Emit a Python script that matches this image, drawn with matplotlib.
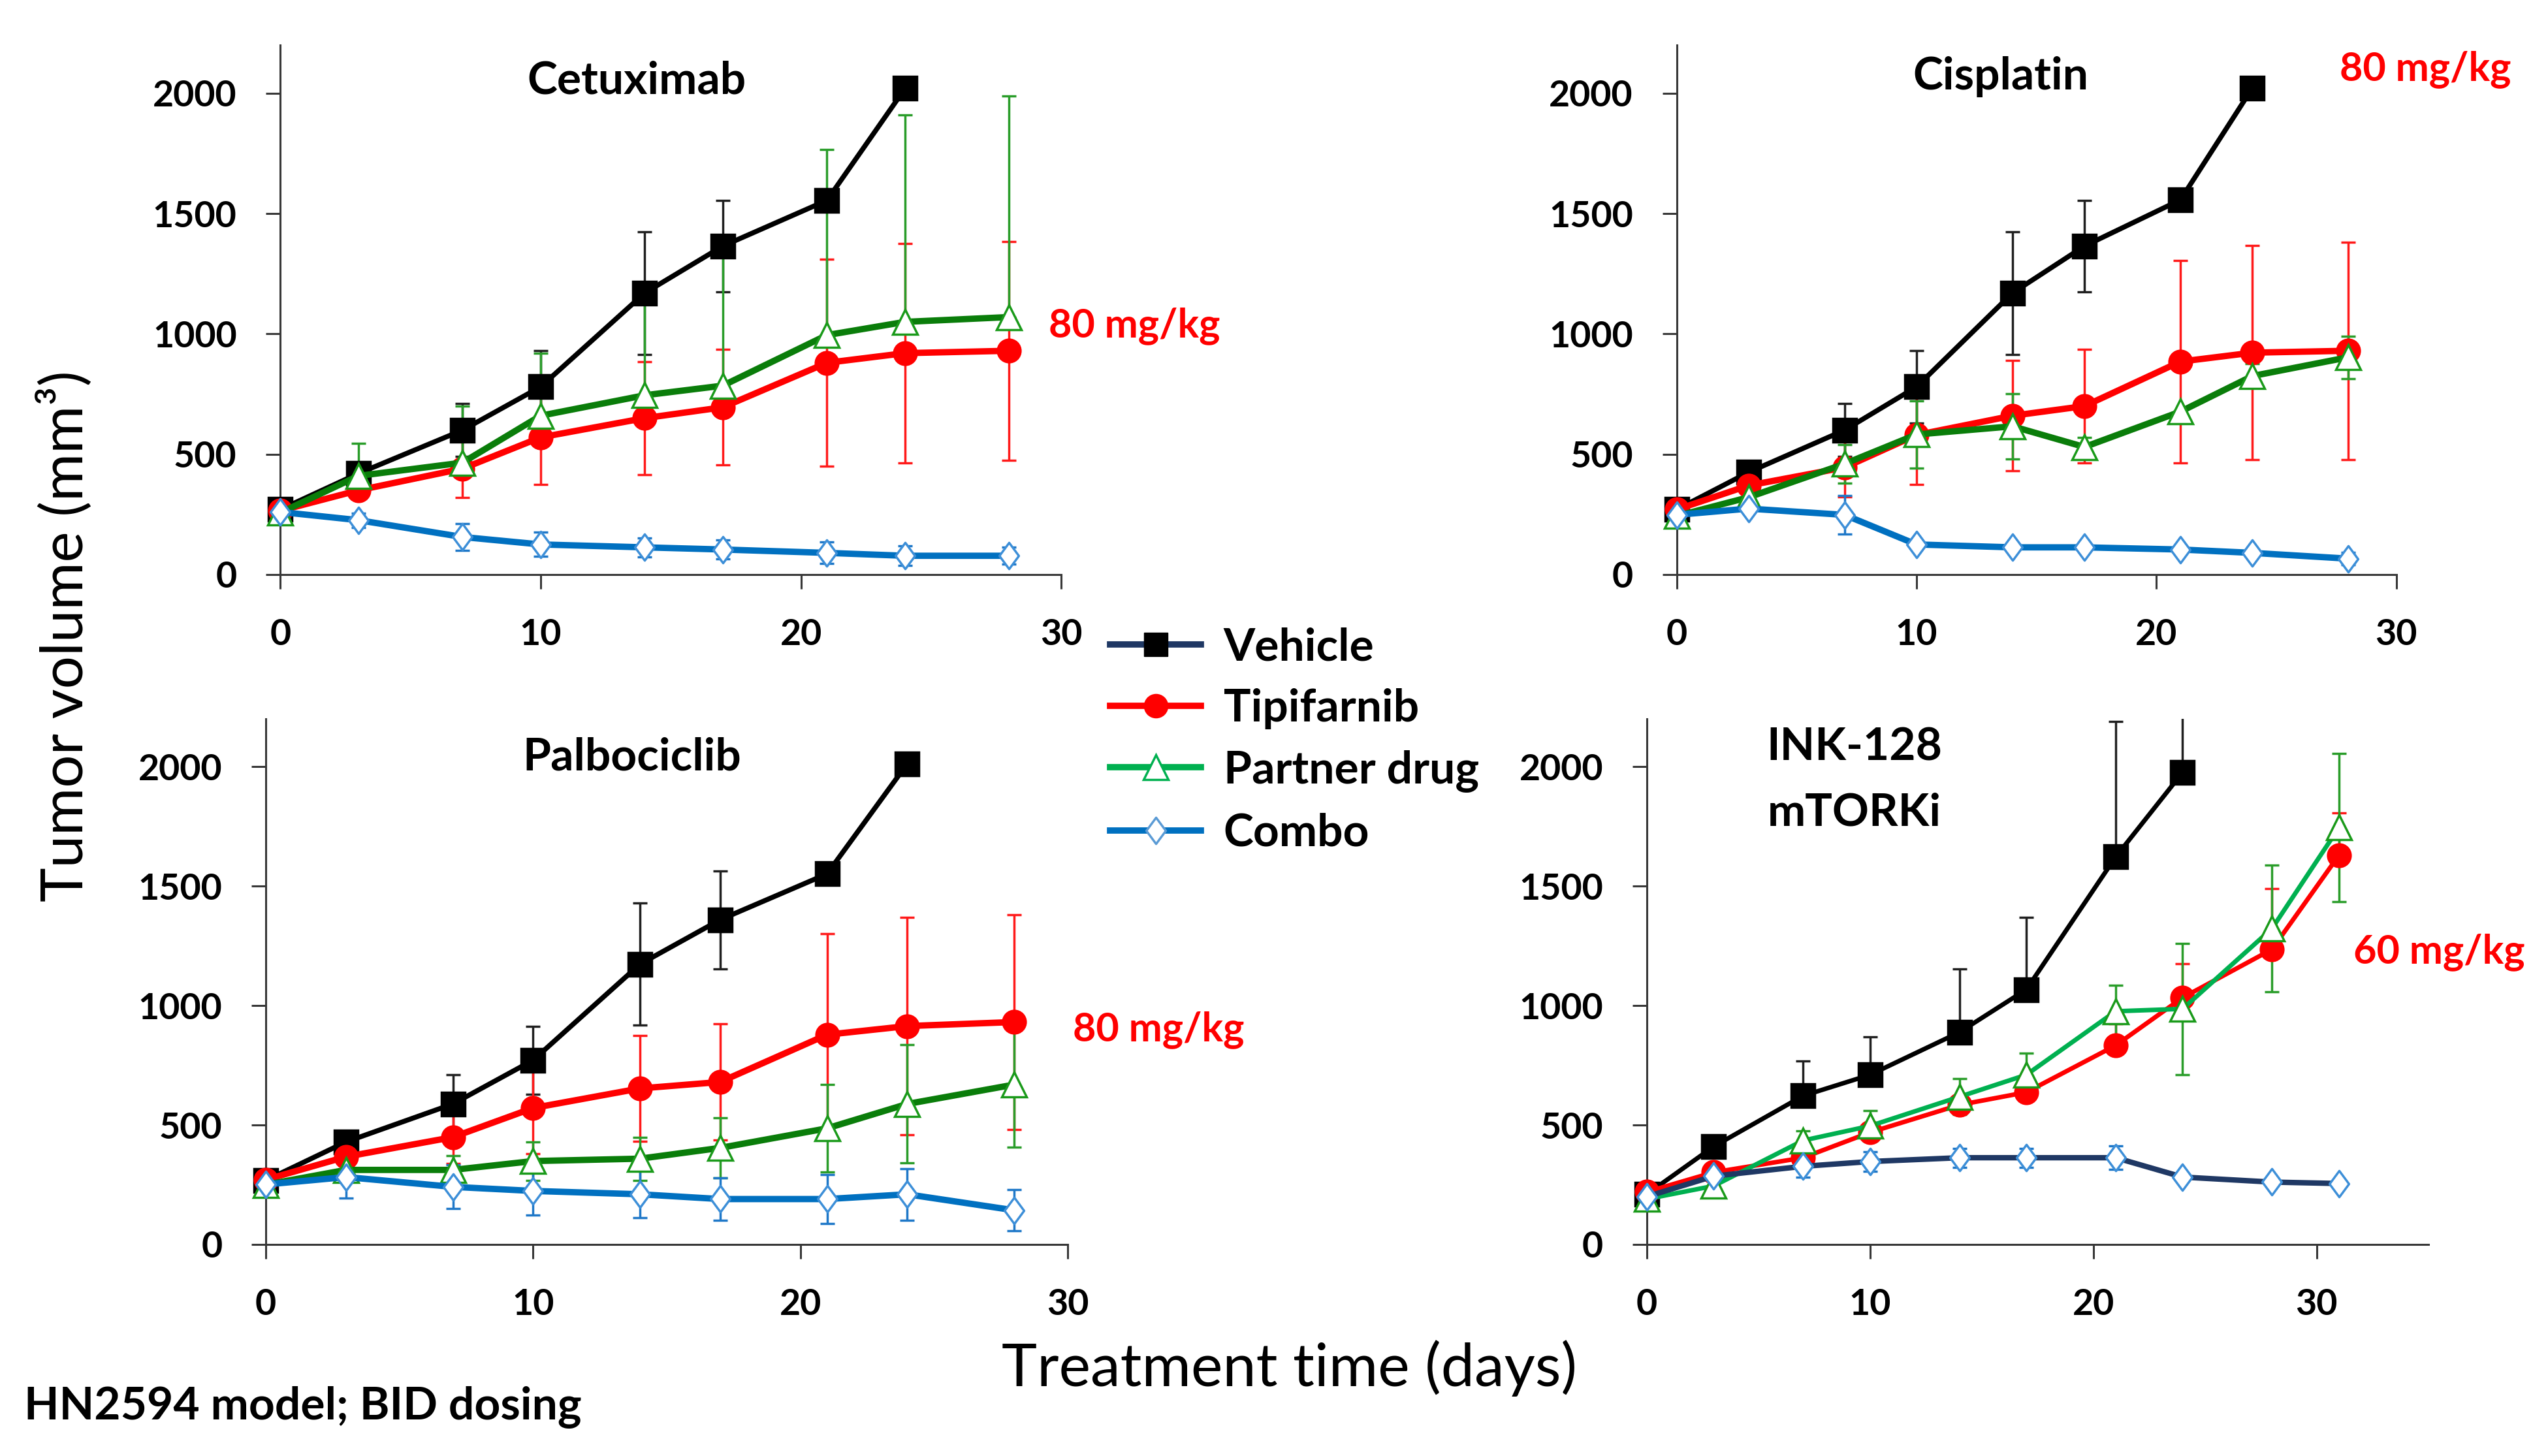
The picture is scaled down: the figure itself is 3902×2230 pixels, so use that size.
import matplotlib
matplotlib.use('Agg')
import matplotlib.pyplot as plt
from matplotlib.lines import Line2D
from matplotlib.path import Path

# ---- data ----
days = [0, 3, 7, 10, 14, 17, 21, 24, 28]
days_ink = [0, 3, 7, 10, 14, 17, 21, 24, 28, 31]

cetux_vehicle = [270, 420, 600, 780, 1170, 1365, 1555, 2020]
cetux_vehicle_err = [0, 0, 110, 150, 255, 190, 0, 0]
cetux_tipi = [265, 350, 440, 570, 650, 695, 880, 920, 930]
cetux_tipi_err = [0, 30, 120, 195, 235, 240, 430, 455, 455]
cetux_partner = [257, 410, 465, 660, 745, 785, 995, 1050, 1070]
cetux_partner_err = [0, 135, 235, 260, 420, 540, 770, 860, 920]   # upper only
cetux_combo = [260, 226, 156, 125, 113, 104, 90, 78, 78]
cetux_combo_err = [0, 30, 55, 50, 40, 40, 45, 40, 35]

cispl_vehicle = [270, 425, 600, 780, 1170, 1365, 1557, 2022]
cispl_vehicle_err = [0, 0, 110, 150, 255, 190, 0, 0]
cispl_tipi = [270, 370, 445, 580, 660, 700, 885, 922, 930]
cispl_tipi_err = [0, 30, 122, 205, 230, 235, 420, 445, 452]
cispl_partner = [243, 321, 460, 582, 616, 530, 677, 825, 903]
cispl_partner_err = [0, 30, 80, 140, 135, 40, 0, 50, 88]
cispl_combo = [248, 274, 248, 125, 113, 113, 104, 90, 66]
cispl_combo_err = [0, 10, 80, 10, 10, 10, 10, 10, 25]

palbo_vehicle = [268, 429, 588, 771, 1173, 1359, 1551, 2012]
palbo_vehicle_err = [0, 0, 122, 143, 255, 205, 0, 0]
palbo_tipi = [271, 367, 449, 571, 653, 680, 878, 914, 931]
palbo_tipi_err = [0, 30, 110, 190, 222, 244, 424, 455, 450]
palbo_partner = [250, 312, 312, 349, 359, 404, 486, 588, 669]
palbo_partner_err = [0, 40, 60, 80, 90, 125, 184, 247, 261]
palbo_combo = [251, 282, 241, 224, 210, 190, 190, 210, 143]
palbo_combo_err = [0, 88, 92, 100, 98, 88, 102, 108, 86]

ink_vehicle = [210, 410, 622, 710, 888, 1067, 1622, 1976]
ink_vehicle_err = [0, 0, 145, 159, 265, 302, 568, 450]   # upper only
ink_tipi = [220, 302, 363, 469, 584, 637, 833, 1033, 1235, 1629]
ink_tipi_err = [0, 20, 30, 30, 30, 30, 90, 142, 255, 177]   # upper only
ink_partner = [190, 245, 435, 496, 618, 710, 976, 986, 1322, 1745]
ink_partner_err = [0, 20, 40, 65, 75, 90, 110, 275, 265, 310]
ink_combo = [200, 286, 327, 347, 363, 363, 363, 282, 261, 255]
ink_combo_err = [0, 15, 45, 40, 40, 40, 50, 10, 10, 10]

legend_labels = ['Vehicle', 'Tipifarnib', 'Partner drug', 'Combo']

plt.rcParams['font.family'] = ['Lato', 'DejaVu Sans']
plt.rcParams['font.weight'] = 'bold'

# tall diamond like the excel marker
diamond = Path([(0, 1), (0.74, 0), (0, -1), (-0.74, 0), (0, 1)],
               [Path.MOVETO, Path.LINETO, Path.LINETO, Path.LINETO, Path.CLOSEPOLY])

veh_st = dict(color='black', marker='s', ms=26, mfc='black', mec='black', ecolor='#202020', lw=5.5, z=3)
tip_st = dict(color='#ff0000', marker='o', ms=25, mfc='#ff0000', mec='#ff0000', ecolor='#ff1a1a', lw=7, z=4)
par_st = dict(color='#0a7d0a', marker='^', ms=27, mfc='white', mec='#1a9a1a', ecolor='#2a9d2a', lw=7, z=5)
com_st = dict(color='#0070c0', marker=diamond, ms=29, mfc='white', mec='#3d8fd8', ecolor='#1f78c8', lw=7, z=6)


def draw(ax, x, vals, errs, st, upper_only=False, **over):
    st = dict(st, **over)
    x = x[:len(vals)]
    yerr = [[0] * len(errs), errs] if upper_only else errs
    ax.errorbar(x, vals, yerr=yerr, fmt='none', ecolor=st['ecolor'], elinewidth=2.5,
                capsize=8, capthick=2.5, zorder=1)
    ax.plot(x, vals, color=st['color'], lw=st['lw'], marker=st['marker'], ms=st['ms'],
            mfc=st['mfc'], mec=st['mec'], mew=2.5, zorder=st['z'], clip_on=False)


def style_axes(ax, xmax):
    ax.set_xlim(0, xmax)
    ax.set_ylim(0, 2200)
    ax.set_xticks([0, 10, 20, 30])
    ax.set_yticks([0, 500, 1000, 1500, 2000])
    for s in ['top', 'right']:
        ax.spines[s].set_visible(False)
    for s in ['left', 'bottom']:
        ax.spines[s].set_linewidth(2.2)
        ax.spines[s].set_color('#383838')
    ax.tick_params(direction='out', length=16, width=2.2, color='#383838', pad=32, labelsize=40)


fig = plt.figure(figsize=(39.02, 22.30), dpi=100)
ax1 = fig.add_axes([0.110, 0.6054, 0.3065, 0.3636])
ax2 = fig.add_axes([0.658, 0.6054, 0.2825, 0.3636])
ax3 = fig.add_axes([0.1043, 0.1453, 0.3147, 0.361])
ax4 = fig.add_axes([0.6463, 0.1453, 0.3067, 0.361])

draw(ax1, days, cetux_vehicle, cetux_vehicle_err, veh_st)
draw(ax1, days, cetux_tipi, cetux_tipi_err, tip_st)
draw(ax1, days, cetux_partner, cetux_partner_err, par_st, upper_only=True)
draw(ax1, days, cetux_combo, cetux_combo_err, com_st)

draw(ax2, days, cispl_vehicle, cispl_vehicle_err, veh_st)
draw(ax2, days, cispl_tipi, cispl_tipi_err, tip_st)
draw(ax2, days, cispl_partner, cispl_partner_err, par_st)
draw(ax2, days, cispl_combo, cispl_combo_err, com_st)

draw(ax3, days, palbo_vehicle, palbo_vehicle_err, veh_st)
draw(ax3, days, palbo_tipi, palbo_tipi_err, tip_st)
draw(ax3, days, palbo_partner, palbo_partner_err, par_st)
draw(ax3, days, palbo_combo, palbo_combo_err, com_st)

draw(ax4, days_ink, ink_vehicle, ink_vehicle_err, veh_st, upper_only=True, lw=5)
draw(ax4, days_ink, ink_tipi, ink_tipi_err, tip_st, upper_only=True, lw=5)
draw(ax4, days_ink, ink_partner, ink_partner_err, par_st, color='#00b050', lw=5)
draw(ax4, days_ink, ink_combo, ink_combo_err, com_st, color='#1f3864', lw=6)

for ax, xm in [(ax1, 30), (ax2, 30), (ax3, 30), (ax4, 35)]:
    style_axes(ax, xm)

ax1.text(13.7, 2050, 'Cetuximab', fontsize=50, ha='center', va='center')
ax2.text(13.5, 2068, 'Cisplatin', fontsize=50, ha='center', va='center')
ax3.text(13.7, 2038, 'Palbociclib', fontsize=50, ha='center', va='center')
ax4.text(9.3, 2079, 'INK-128', fontsize=50, ha='center', va='center')
ax4.text(9.3, 1807, 'mTORKi', fontsize=50, ha='center', va='center')

red = '#ff0000'
ax1.text(32.8, 1034, '80 mg/kg', color=red, fontsize=44, ha='center', va='center', clip_on=False)
ax2.text(31.2, 2100, '80 mg/kg', color=red, fontsize=44, ha='center', va='center', clip_on=False)
ax3.text(33.4, 898, '80 mg/kg', color=red, fontsize=44, ha='center', va='center', clip_on=False)
ax4.text(35.5, 1224, '60 mg/kg', color=red, fontsize=44, ha='center', va='center', clip_on=False)

handles = [
    Line2D([], [], color='#1f3864', lw=7, marker='s', ms=26, mfc='black', mec='black'),
    Line2D([], [], color='#ff0000', lw=7, marker='o', ms=26, mfc='#ff0000', mec='#ff0000'),
    Line2D([], [], color='#00b050', lw=7, marker='^', ms=27, mfc='white', mec='#00b050', mew=2.5),
    Line2D([], [], color='#0070c0', lw=7, marker=diamond, ms=29, mfc='white', mec='#5b9bd5', mew=2.5),
]
fig.legend(handles, legend_labels, loc='center left', bbox_to_anchor=(0.4357, 0.4915),
           frameon=False, fontsize=50, handlelength=2.0, handletextpad=0.5,
           labelspacing=0.45, borderpad=0, borderaxespad=0)

fig.text(0.0256, 0.563, 'Tumor volume (mm³)', rotation=90, fontsize=64, fontweight='normal',
         ha='center', va='center')
fig.text(0.506, 0.0605, 'Treatment time (days)', fontsize=66, fontweight='normal',
         ha='center', va='center')
fig.text(0.0095, 0.0336, 'HN2594 model; BID dosing', fontsize=50, ha='left', va='center')

fig.savefig('out.png', dpi=100)
